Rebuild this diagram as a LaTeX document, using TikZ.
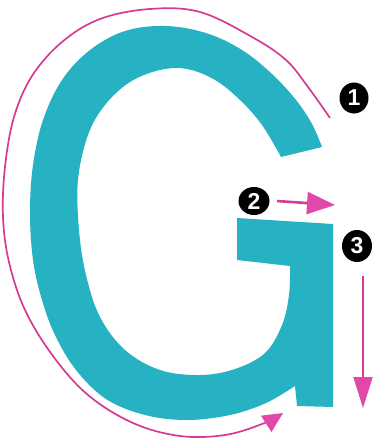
\documentclass[tikz,border=0pt]{standalone}
\usepackage{fontspec}
\setsansfont{Liberation Sans}
\usetikzlibrary{arrows.meta,shapes.geometric}
\definecolor{gteal}{RGB}{38,178,194}
\definecolor{gpink}{RGB}{212,60,146}
\definecolor{gpinkhead}{RGB}{226,72,170}
\begin{document}
\begin{tikzpicture}[x=1pt,y=-1pt,
  num/.style={ellipse, fill=black, text=white, inner sep=0pt,
    minimum width=29pt, minimum height=31pt,
    font=\sffamily\bfseries\fontsize{23}{23}\selectfont},
  trace/.style={draw=gpink, line width=1.7pt},
  headtip/.style={-{Triangle[length=#1, color=gpinkhead]}},
]
\useasboundingbox (0,0) rectangle (381,447);
% letter G
\fill[gteal]
  plot[smooth, tension=0.6] coordinates {(322,147) (312,124) (296,100) (272,74) (242,50) (206,33) (165,26) (125,31) (90,50) (62,80) (43,120) (33,165) (30,212) (33,260) (42,300) (55,335) (76,370) (106,399) (145,415) (187,420) (230,415) (266,403) (295,386)}
  -- (297,406) -- (333,407) -- (333,224) -- (237,218) -- (237,260) -- (290,266)
  -- plot[smooth, tension=0.6] coordinates {(290,266) (289,295) (282,325) (265,353) (235,369) (200,375) (160,370) (125,350) (100,317) (86,275) (79,230) (78,180) (88,135) (105,105) (130,82) (160,70) (187,69) (215,80) (240,100) (262,125) (281,157)}
  -- cycle;
% tracing arrow around the bowl
\coordinate (t0) at (330,118);
\coordinate (t1) at (283,413);
\draw[trace, -{Triangle[length=20pt,width=19pt,color=gpinkhead]}]
  plot[smooth, tension=0.6] coordinates {(330,118) (308,87) (286,60) (252,37) (200,12) (150,9) (100,19) (62,42) (32,76) (14,117) (5,167) (3,217) (9,262) (25,310) (53,356) (88,395) (133,423) (180,436) (225,435) (262,424) (283,413)};
% numbers
\node[num] (n1) at (354,98) {1};
\node[num, minimum width=31pt, minimum height=28pt] (n2) at (254,201) {2};
\node[num, minimum width=30pt, minimum height=32pt] (n3) at (357,246) {3};
% arrow 2
\coordinate (a2s) at (277,201);
\coordinate (a2e) at (335,205);
\draw[draw=gpink, line width=2.6pt, -{Triangle[length=28pt,width=22pt,color=gpinkhead]}] (a2s) -- (a2e);
% arrow 3
\coordinate (a3s) at (363,276);
\coordinate (a3e) at (363,408);
\draw[draw=gpink, line width=2pt, -{Triangle[length=31pt,width=19pt,color=gpinkhead]}] (a3s) -- (a3e);
\end{tikzpicture}
\end{document}
